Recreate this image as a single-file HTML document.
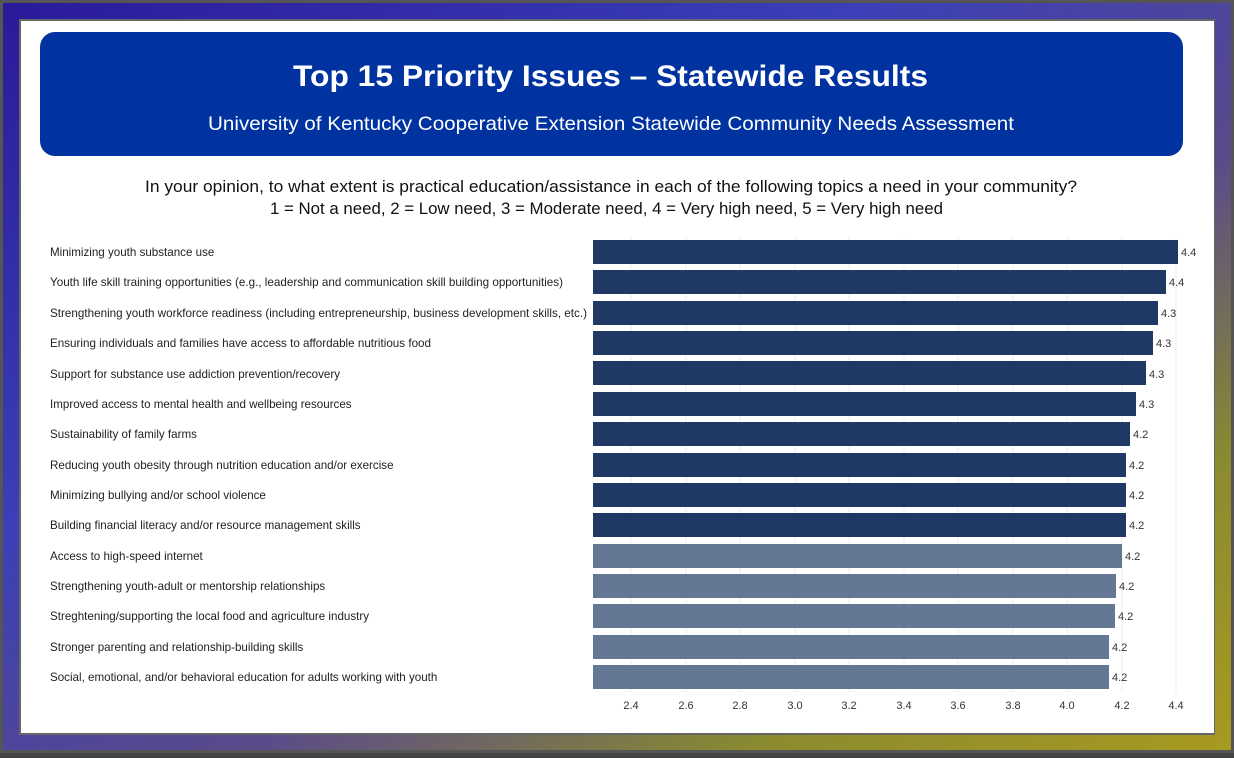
<!DOCTYPE html>
<html><head><meta charset="utf-8"><style>
body{margin:0;width:1234px;height:753px;overflow:hidden;background:#444;}
</style></head><body>
<svg width="1234" height="753" xmlns="http://www.w3.org/2000/svg" font-family="Liberation Sans, Arial, sans-serif">
<defs>
<linearGradient id="fr" x1="0" y1="0" x2="1" y2="1">
<stop offset="0" stop-color="#2a1a9a"/><stop offset="0.35" stop-color="#3b3fb8"/>
<stop offset="0.6" stop-color="#5a4a8a"/><stop offset="0.8" stop-color="#8a8a30"/><stop offset="1" stop-color="#a89a20"/>
</linearGradient>
</defs>
<rect x="0" y="0" width="1234" height="753" fill="#555"/>
<rect x="3" y="3" width="1228" height="747" fill="url(#fr)"/>
<rect x="19" y="19" width="1196" height="716" fill="#666"/>
<rect x="21" y="21" width="1193" height="712" fill="#fff"/>
<rect x="40" y="32" width="1143" height="124" rx="15" fill="#0033a0"/>
<text x="293" y="86" fill="#fff" font-size="30" font-weight="bold" textLength="635" lengthAdjust="spacingAndGlyphs">Top 15 Priority Issues – Statewide Results</text>
<text x="208" y="130" fill="#fff" font-size="19.5" textLength="806" lengthAdjust="spacingAndGlyphs">University of Kentucky Cooperative Extension Statewide Community Needs Assessment</text>
<text x="145" y="192" fill="#111" font-size="16.5" textLength="932" lengthAdjust="spacingAndGlyphs">In your opinion, to what extent is practical education/assistance in each of the following topics a need in your community?</text>
<text x="270" y="214" fill="#111" font-size="16.5" textLength="673" lengthAdjust="spacingAndGlyphs">1 = Not a need, 2 = Low need, 3 = Moderate need, 4 = Very high need, 5 = Very high need</text>
<g stroke="#eee" stroke-width="1">
<line x1="631" y1="237" x2="631" y2="692"/><line x1="686" y1="237" x2="686" y2="692"/><line x1="740" y1="237" x2="740" y2="692"/><line x1="795" y1="237" x2="795" y2="692"/><line x1="849" y1="237" x2="849" y2="692"/><line x1="904" y1="237" x2="904" y2="692"/><line x1="958" y1="237" x2="958" y2="692"/><line x1="1013" y1="237" x2="1013" y2="692"/><line x1="1067" y1="237" x2="1067" y2="692"/><line x1="1122" y1="237" x2="1122" y2="692"/><line x1="1176" y1="237" x2="1176" y2="692"/>
</g>
<g font-size="11" fill="#333" text-anchor="middle">
<text x="631" y="709">2.4</text><text x="686" y="709">2.6</text><text x="740" y="709">2.8</text><text x="795" y="709">3.0</text><text x="849" y="709">3.2</text><text x="904" y="709">3.4</text><text x="958" y="709">3.6</text><text x="1013" y="709">3.8</text><text x="1067" y="709">4.0</text><text x="1122" y="709">4.2</text><text x="1176" y="709">4.4</text>
</g>
<g font-size="11.6" fill="#222">
<text x="50" y="256">Minimizing youth substance use</text>
<text x="50" y="286" textLength="513" lengthAdjust="spacingAndGlyphs">Youth life skill training opportunities (e.g., leadership and communication skill building opportunities)</text>
<text x="50" y="317" textLength="537" lengthAdjust="spacingAndGlyphs">Strengthening youth workforce readiness (including entrepreneurship, business development skills, etc.)</text>
<text x="50" y="347" textLength="381" lengthAdjust="spacingAndGlyphs">Ensuring individuals and families have access to affordable nutritious food</text>
<text x="50" y="378">Support for substance use addiction prevention/recovery</text>
<text x="50" y="408">Improved access to mental health and wellbeing resources</text>
<text x="50" y="438">Sustainability of family farms</text>
<text x="50" y="469">Reducing youth obesity through nutrition education and/or exercise</text>
<text x="50" y="499">Minimizing bullying and/or school violence</text>
<text x="50" y="529">Building financial literacy and/or resource management skills</text>
<text x="50" y="560">Access to high-speed internet</text>
<text x="50" y="590">Strengthening youth-adult or mentorship relationships</text>
<text x="50" y="620">Streghtening/supporting the local food and agriculture industry</text>
<text x="50" y="651">Stronger parenting and relationship-building skills</text>
<text x="50" y="681">Social, emotional, and/or behavioral education for adults working with youth</text>
</g>
<g fill="#1f3864">
<rect x="593" y="240" width="585" height="24"/>
<rect x="593" y="270" width="573" height="24"/>
<rect x="593" y="301" width="565" height="24"/>
<rect x="593" y="331" width="560" height="24"/>
<rect x="593" y="361" width="553" height="24"/>
<rect x="593" y="392" width="543" height="24"/>
<rect x="593" y="422" width="537" height="24"/>
<rect x="593" y="453" width="533" height="24"/>
<rect x="593" y="483" width="533" height="24"/>
<rect x="593" y="513" width="533" height="24"/>
</g>
<g fill="#647896">
<rect x="593" y="544" width="529" height="24"/>
<rect x="593" y="574" width="523" height="24"/>
<rect x="593" y="604" width="522" height="24"/>
<rect x="593" y="635" width="516" height="24"/>
<rect x="593" y="665" width="516" height="24"/>
</g>
<g font-size="11" fill="#333">
<text x="1181" y="256">4.4</text><text x="1169" y="286">4.4</text><text x="1161" y="317">4.3</text><text x="1156" y="347">4.3</text><text x="1149" y="378">4.3</text><text x="1139" y="408">4.3</text><text x="1133" y="438">4.2</text><text x="1129" y="469">4.2</text><text x="1129" y="499">4.2</text><text x="1129" y="529">4.2</text><text x="1125" y="560">4.2</text><text x="1119" y="590">4.2</text><text x="1118" y="620">4.2</text><text x="1112" y="651">4.2</text><text x="1112" y="681">4.2</text>
</g>
</svg>
</body></html>
